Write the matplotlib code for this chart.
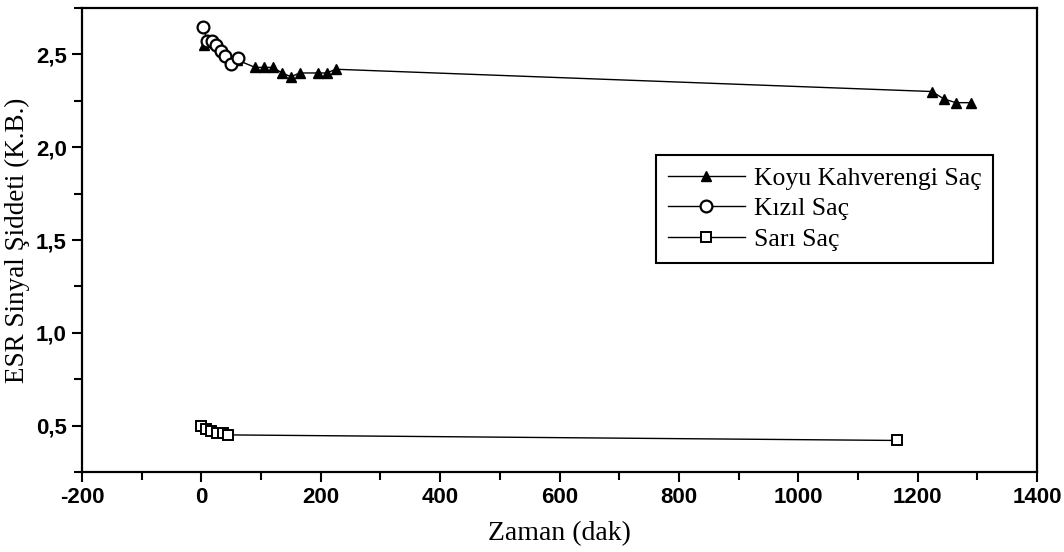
import matplotlib
matplotlib.use("Agg")
import matplotlib.pyplot as plt
from matplotlib.ticker import MultipleLocator, FuncFormatter

plt.rcParams["axes.unicode_minus"] = False

# Koyu Kahverengi Saç (dark brown hair)
koyu_t = [5, 60, 90, 105, 120, 135, 150, 165, 195, 210, 225, 1224, 1244, 1264, 1289]
koyu_v = [2.55, 2.47, 2.43, 2.43, 2.43, 2.40, 2.38, 2.40, 2.40, 2.40, 2.42, 2.30, 2.26, 2.24, 2.24]

# Kızıl Saç (red hair)
kizil_t = [3, 10, 18, 25, 32, 40, 49, 62]
kizil_v = [2.65, 2.57, 2.57, 2.55, 2.52, 2.49, 2.45, 2.48]

# Sarı Saç (blond hair)
sari_t = [0, 8, 16, 26, 36, 44, 1166]
sari_v = [0.50, 0.48, 0.47, 0.46, 0.46, 0.45, 0.42]

x_ticks = [-200, 0, 200, 400, 600, 800, 1000, 1200, 1400]
y_ticks = [0.5, 1.0, 1.5, 2.0, 2.5]

serif = ["Liberation Serif", "DejaVu Serif"]
sans = ["Liberation Sans", "DejaVu Sans"]

fig = plt.figure(figsize=(10.64, 5.52), dpi=100)
ax = fig.add_axes([0.0771, 0.1449, 0.8975, 0.8406])

ax.plot(koyu_t, koyu_v, color="black", lw=1.0, marker="^", ms=7.5,
        mfc="black", mec="black", label="Koyu Kahverengi Saç", zorder=3)
ax.plot(kizil_t, kizil_v, color="black", lw=1.0, marker="o", ms=8.5,
        mfc="white", mec="black", mew=1.6, label="Kızıl Saç", zorder=4)
ax.plot(sari_t, sari_v, color="black", lw=1.0, marker="s", ms=7,
        mfc="white", mec="black", mew=1.4, label="Sarı Saç", zorder=4)

ax.set_xlim(-200, 1400)
ax.set_ylim(0.25, 2.75)
ax.set_xticks(x_ticks)
ax.set_yticks(y_ticks)
ax.xaxis.set_minor_locator(MultipleLocator(100))
ax.yaxis.set_minor_locator(MultipleLocator(0.25))
ax.yaxis.set_major_formatter(FuncFormatter(lambda v, p: f"{v:.1f}".replace(".", ",")))

ax.tick_params(which="both", direction="out", width=1.5, top=False, right=False)
ax.tick_params(which="major", length=7, pad=4)
ax.tick_params(which="minor", length=6)
for lab in ax.get_xticklabels() + ax.get_yticklabels():
    lab.set_family(sans)
    lab.set_fontweight("bold")
    lab.set_fontsize(16)

for sp in ax.spines.values():
    sp.set_linewidth(1.6)

ax.set_xlabel("Zaman (dak)", family=serif, fontsize=20, labelpad=9)
ax.set_ylabel("ESR Sinyal Şiddeti (K.B.)", family=serif, fontsize=19.5, labelpad=4)

leg = ax.legend(loc="upper left", bbox_to_anchor=(656 / 1064, 1 - 155 / 552),
                bbox_transform=fig.transFigure, prop={"family": serif, "size": 18.5},
                frameon=True, fancybox=False, edgecolor="black", framealpha=1,
                handlelength=3.0, handletextpad=0.35, labelspacing=0.3,
                borderpad=0.45, borderaxespad=0)
leg.get_frame().set_linewidth(1.5)

plt.savefig("out.png", dpi=100)
